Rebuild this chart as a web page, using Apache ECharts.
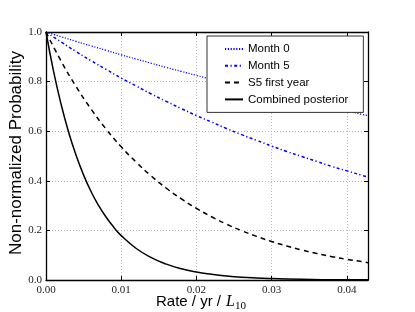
<!DOCTYPE html>
<html><head><meta charset="utf-8">
<script src="https://cdn.jsdelivr.net/npm/echarts@6/dist/echarts.min.js"></script>
<style>html,body{margin:0;padding:0;background:#fff}#c{width:415px;height:312px}</style>
</head><body><div id="c"></div>
<script>
// Shared rate grid (yr^-1 / L10)
var rateX = [0,0.002,0.004,0.006,0.008,0.010,0.012,0.014,0.016,0.018,0.020,0.022,0.024,0.026,0.028,0.030,0.032,0.034,0.036,0.038,0.040,0.042,0.0428];
var month0 = [1.0,0.981,0.962,0.944,0.926,0.908,0.891,0.874,0.857,0.841,0.825,0.809,0.794,0.779,0.764,0.749,0.735,0.721,0.707,0.694,0.681,0.668,0.663];
var month5 = [1.0,0.960,0.921,0.884,0.849,0.814,0.782,0.750,0.720,0.691,0.663,0.637,0.611,0.586,0.563,0.540,0.518,0.498,0.478,0.458,0.440,0.422,0.415];
var s5FirstYear = [1.0,0.883,0.780,0.689,0.608,0.537,0.475,0.419,0.370,0.327,0.289,0.255,0.225,0.199,0.176,0.155,0.137,0.121,0.107,0.094,0.083,0.074,0.070];
// Finer grid for the steep combined posterior
var rateXFine = [0,0.001,0.002,0.003,0.004,0.005,0.006,0.007,0.008,0.009,0.010,0.012,0.014,0.016,0.018,0.020,0.022,0.024,0.026,0.028,0.030,0.034,0.038,0.0428];
var combined = [1.0,0.842,0.709,0.597,0.503,0.423,0.356,0.300,0.253,0.213,0.179,0.127,0.090,0.064,0.045,0.032,0.023,0.016,0.011,0.008,0.006,0.003,0.001,0.001];
var seriesNames = ['Month 0','Month 5','S5 first year','Combined posterior'];
var xTicks = [0,0.01,0.02,0.03,0.04];
var yTicks = [0,0.2,0.4,0.6,0.8,1.0];

function pairs(xs, ys){ return xs.map(function(x,i){ return [x, ys[i]]; }); }

var chart = echarts.init(document.getElementById('c'), null, {renderer:'canvas'});
var serif = 'Liberation Serif';
var gridLine = {show:true, lineStyle:{color:'#b8b8b8', type:[1,2], width:1}};
var option = {
  animation:false,
  backgroundColor:'#fff',
  grid:{left:46, top:32, right:47, bottom:32, containLabel:false},
  xAxis:[{
    type:'value', min:0, max:0.0428, interval:0.01,
    axisLine:{show:true, onZero:false, lineStyle:{color:'#000', width:1.3}},
    axisTick:{show:true, inside:true, length:4, lineStyle:{color:'#000'}},
    axisLabel:{showMaxLabel:false, margin:5, fontFamily:serif, fontSize:11, color:'#222',
      formatter:function(v){ return v.toFixed(2); }},
    splitLine:gridLine
  },{
    type:'value', position:'top', min:0, max:0.0428, interval:0.01,
    axisLine:{show:true, onZero:false, lineStyle:{color:'#000', width:1.3}},
    axisTick:{show:true, inside:true, length:4, lineStyle:{color:'#000'}},
    axisLabel:{show:false}, splitLine:{show:false}
  }],
  yAxis:[{
    type:'value', min:0, max:1, interval:0.2,
    axisLine:{show:true, onZero:false, lineStyle:{color:'#000', width:1.3}},
    axisTick:{show:true, inside:true, length:4, lineStyle:{color:'#000'}},
    axisLabel:{margin:4, fontFamily:serif, fontSize:11, color:'#222',
      formatter:function(v){ return v.toFixed(1); }},
    splitLine:gridLine
  },{
    type:'value', position:'right', min:0, max:1, interval:0.2,
    axisLine:{show:true, onZero:false, lineStyle:{color:'#000', width:1.3}},
    axisTick:{show:true, inside:true, length:4, lineStyle:{color:'#000'}},
    axisLabel:{show:false}, splitLine:{show:false}
  }],
  legend:{
    left:207, top:36, orient:'vertical',
    data:seriesNames,
    itemWidth:18, itemHeight:10, itemGap:4.8,
    padding:[7,15,7,17],
    itemStyle:{opacity:0},
    borderColor:'#333', borderWidth:1, backgroundColor:'#fff', borderRadius:0,
    textStyle:{fontFamily:'Liberation Sans', fontSize:11.5, color:'#000'}
  },
  series:[
    {name:seriesNames[0], type:'line', smooth:true, symbol:'none', data:pairs(rateX, month0),
      lineStyle:{color:'#0000ff', width:1.2, type:[1.2,1.6]}, itemStyle:{color:'#0000ff'}, z:3},
    {name:seriesNames[1], type:'line', smooth:true, symbol:'none', data:pairs(rateX, month5),
      lineStyle:{color:'#0000ff', width:1.5, type:[3,2.5,1.2,2.5]}, itemStyle:{color:'#0000ff'}, z:3},
    {name:seriesNames[2], type:'line', smooth:true, symbol:'none', data:pairs(rateX, s5FirstYear),
      lineStyle:{color:'#000', width:1.5, type:[5,4]}, itemStyle:{color:'#000'}, z:3},
    {name:seriesNames[3], type:'line', smooth:true, symbol:'none', data:pairs(rateXFine, combined),
      lineStyle:{color:'#000', width:1.5, type:'solid'}, itemStyle:{color:'#000'}, z:3}
  ],
  graphic:[
    {type:'text', x:16, y:153, rotation:Math.PI/2,
      style:{text:'Non-normalized Probability', fontFamily:'Liberation Sans', fontSize:17, fill:'#000', align:'center', verticalAlign:'middle'}},
    {type:'text', x:156, y:302,
      style:{text:'Rate / yr / ', fontFamily:'Liberation Sans', fontSize:15, fill:'#000', align:'left', verticalAlign:'middle'}},
    {type:'text', x:226, y:302,
      style:{text:'L', fontFamily:serif, fontStyle:'italic', fontSize:16, fill:'#000', align:'left', verticalAlign:'middle'}},
    {type:'text', x:235, y:306,
      style:{text:'10', fontFamily:serif, fontSize:11, fill:'#000', align:'left', verticalAlign:'middle'}}
  ]
};
chart.setOption(option);
</script>
</body></html>
